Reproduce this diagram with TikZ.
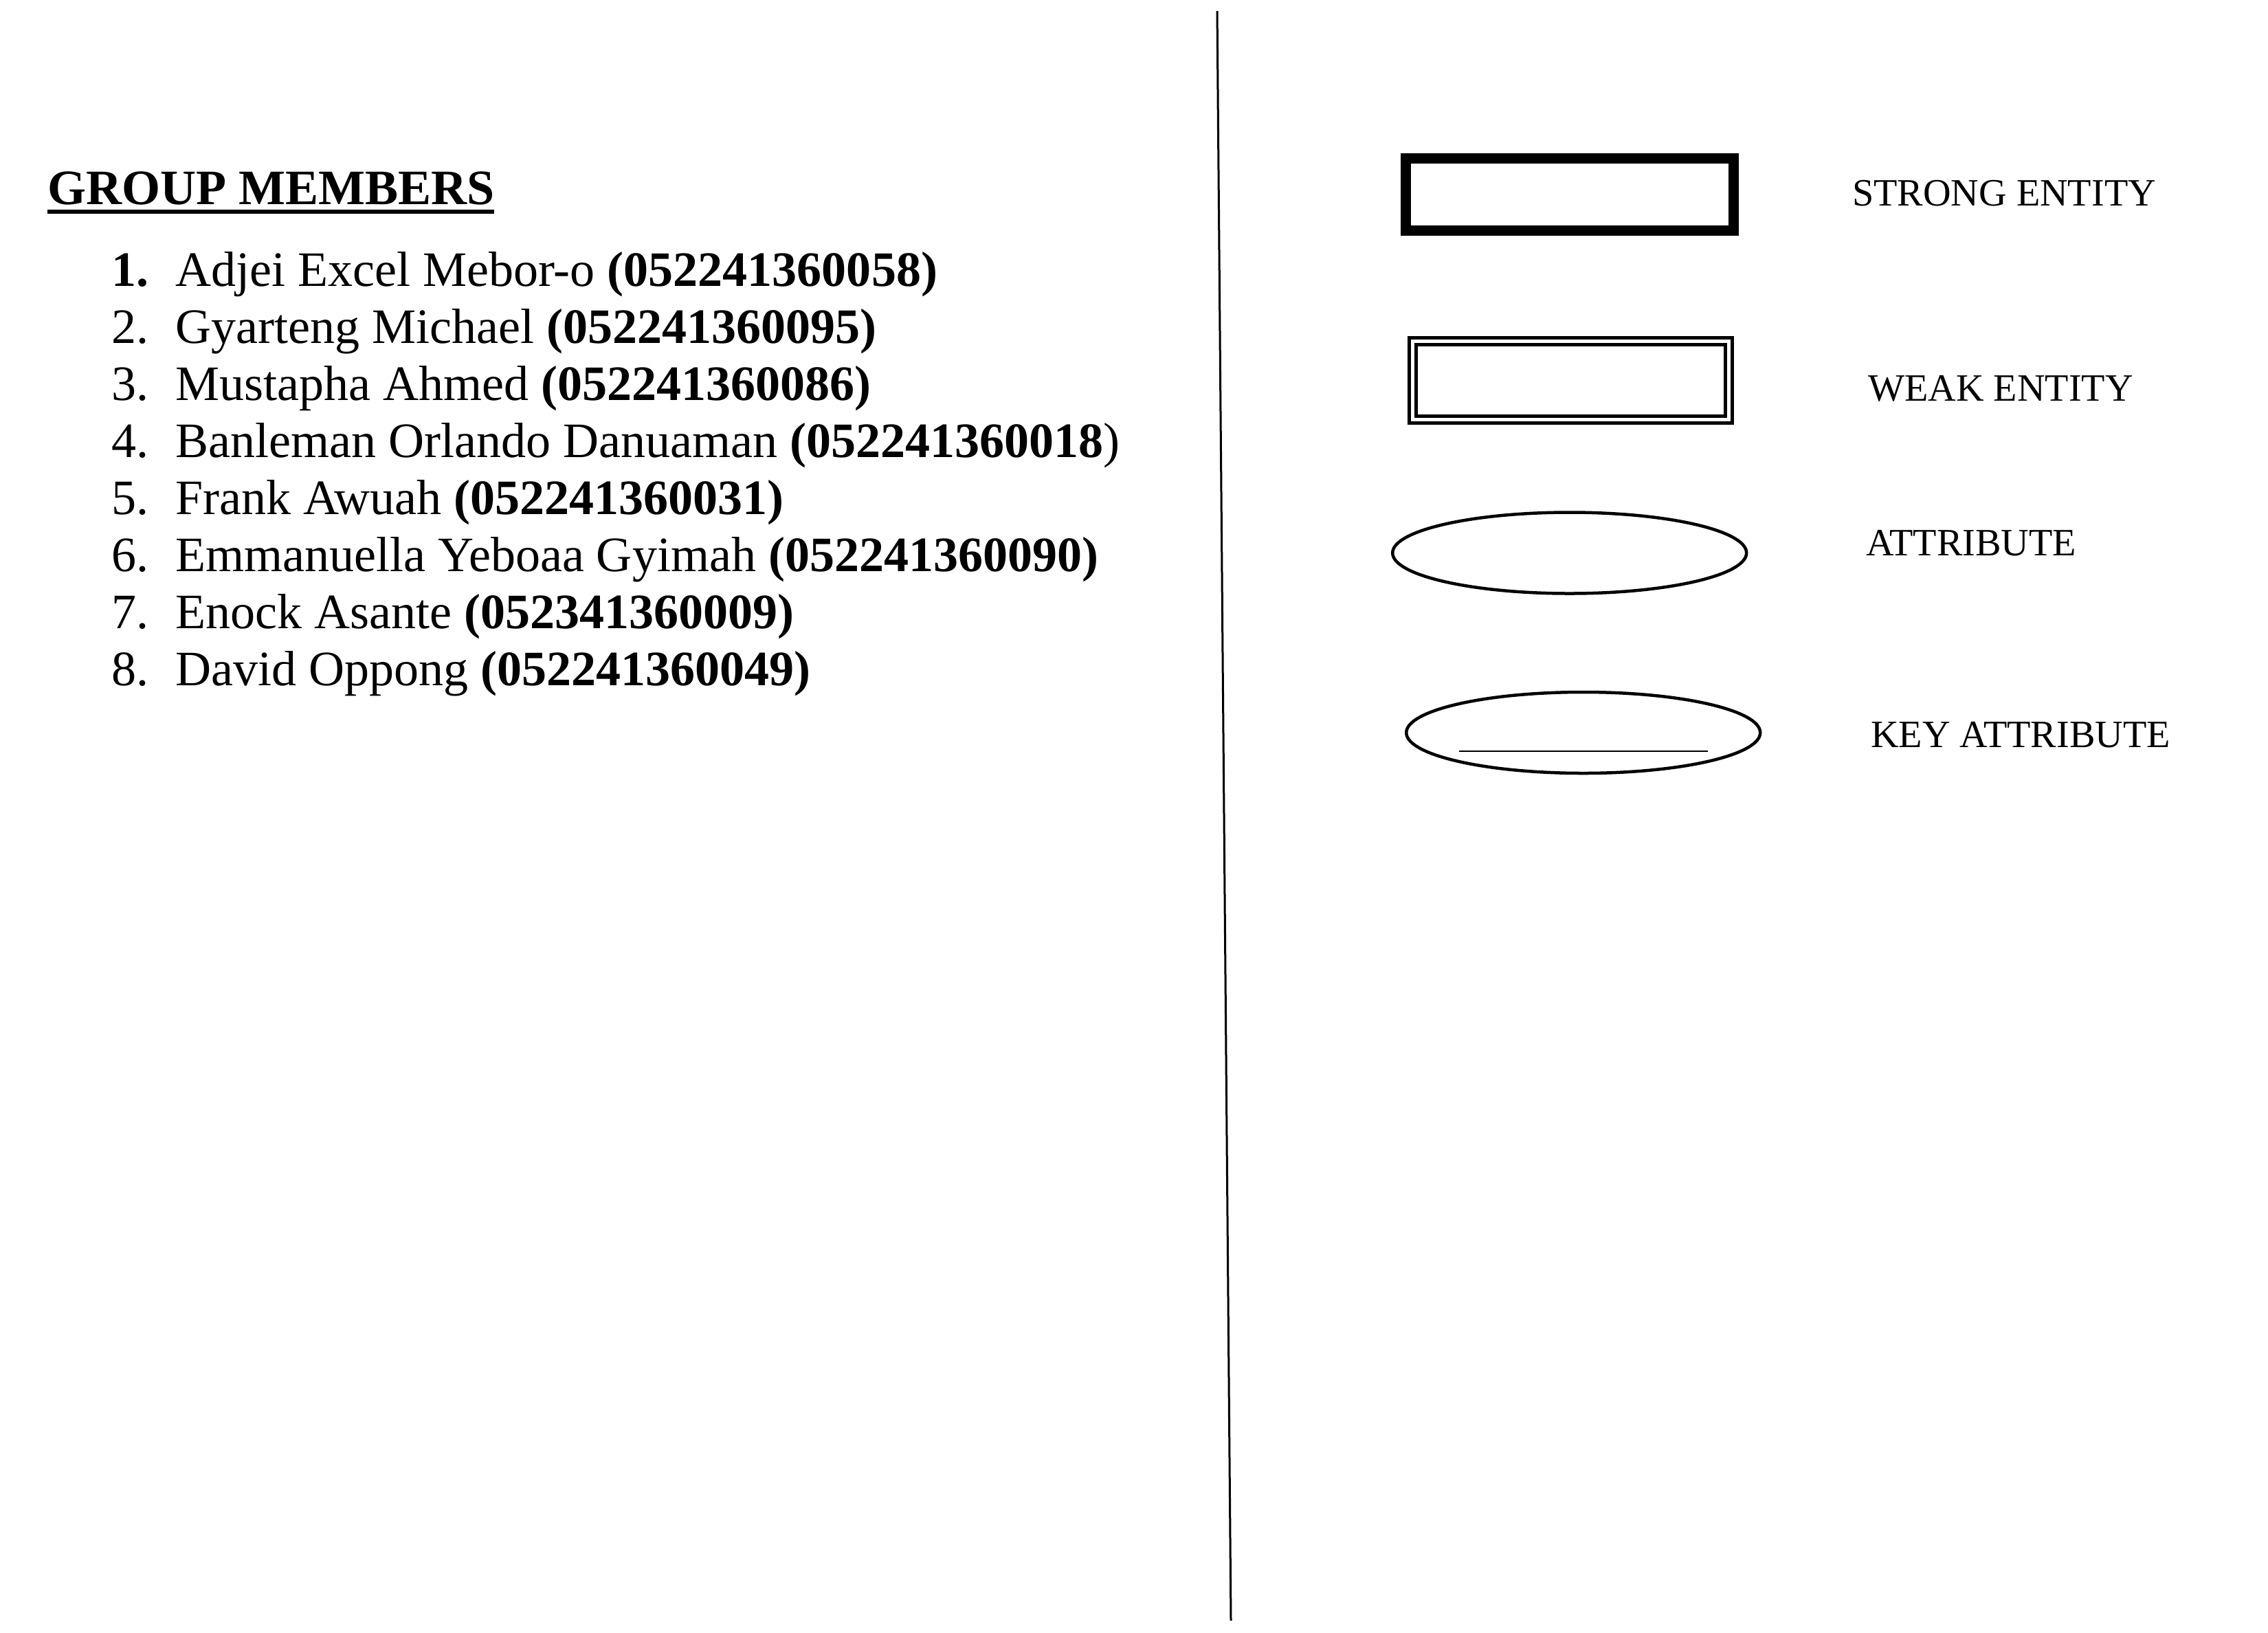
\documentclass[tikz,border=0pt]{standalone}
\usepackage{fontspec}
\setmainfont{Liberation Serif}
\usetikzlibrary{shapes.geometric}

\begin{document}
\begin{tikzpicture}[
  every node/.style={inner sep=0, outer sep=0},
  listtext/.style={anchor=base west, font=\fontsize{20.5}{24}\selectfont},
  legendtext/.style={anchor=base west, font=\fontsize{16}{19}\selectfont},
  strongent/.style={draw, rectangle, line width=0.15cm, minimum width=4.77cm, minimum height=1.055cm},
  weakent/.style={draw, rectangle, double, line width=0.05cm, double distance=0.05cm, minimum width=4.6cm, minimum height=1.14cm},
  attrib/.style={draw, ellipse, line width=0.045cm, minimum width=5.15cm, minimum height=1.18cm}
]
\useasboundingbox (0,0) rectangle (33,-23.75);

% dividing line
\coordinate (divtop) at (17.71,-0.16);
\coordinate (divbot) at (17.91,-23.58);
\draw [line width=0.03cm] (divtop) -- (divbot);

% members
\node [listtext, font=\fontsize{20.5}{24}\selectfont\bfseries] (head) at (0.69,-2.97) {GROUP MEMBERS};
\draw [line width=0.06cm] ([yshift=-0.105cm]head.base west) -- ([yshift=-0.105cm]head.base east);
\foreach \i/\num/\txt in {
  1/\textbf{1.}/{Adjei Excel Mebor-o \textbf{(052241360058)}},
  2/2./{Gyarteng Michael \textbf{(052241360095)}},
  3/3./{Mustapha Ahmed \textbf{(052241360086)}},
  4/4./{Banleman Orlando Danuaman \textbf{(052241360018})},
  5/5./{Frank Awuah \textbf{(052241360031)}},
  6/6./{Emmanuella Yeboaa Gyimah \textbf{(052241360090)}},
  7/7./{Enock Asante \textbf{(052341360009)}},
  8/8./{David Oppong \textbf{(052241360049)}}}{
  \node [listtext] (num\i) at (1.62,{-4.16-0.83*(\i-1)}) {\num};
  \node [listtext] (item\i) at (2.55,{-4.16-0.83*(\i-1)}) {\txt};
}

% legend
\node [strongent] (strong) at (22.835,-2.8275) {};
\node [legendtext] (strongl) at (26.95,-2.99) {STRONG ENTITY};
\node [weakent] (weak) at (22.855,-5.537) {};
\node [legendtext] (weakl) at (27.18,-5.83) {WEAK ENTITY};
\node [attrib] (attr) at (22.837,-8.045) {};
\node [legendtext] (attrl) at (27.15,-8.08) {ATTRIBUTE};
\node [attrib] (keyattr) at (23.037,-10.66) {};
\node [legendtext] (keyl) at (27.22,-10.87) {KEY ATTRIBUTE};
\draw [line width=0.02cm] ([xshift=-1.81cm,yshift=-0.267cm]keyattr.center) -- ([xshift=1.81cm,yshift=-0.267cm]keyattr.center);
\end{tikzpicture}
\end{document}
